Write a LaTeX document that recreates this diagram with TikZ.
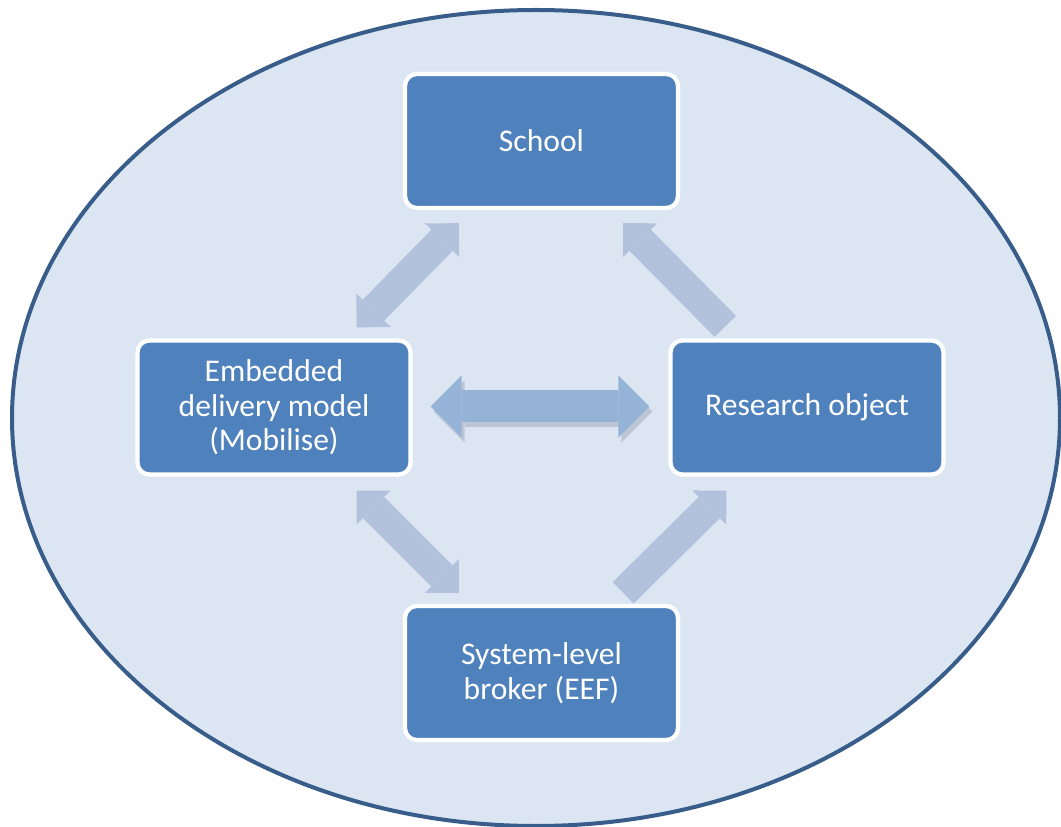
\documentclass[tikz,border=0pt]{standalone}
\usepackage{fontspec}
\setmainfont{Carlito}
\usetikzlibrary{arrows.meta,calc}
\definecolor{ringfill}{HTML}{DCE6F2}
\definecolor{ringline}{HTML}{385D8A}
\definecolor{boxfill}{HTML}{4F81BD}
\definecolor{diagfill}{HTML}{B2C2DC}
\definecolor{midfill}{HTML}{95B3D7}
\definecolor{midshade}{HTML}{BCC5D1}
\tikzset{
  diagtip/.tip={Triangle[length=18pt, width=36pt, line width=0pt]},
  midtip/.tip={Triangle[length=23.25pt, width=46.5pt, line width=0pt]}
}
\begin{document}
\begin{tikzpicture}[
  x=0.75pt, y=-0.75pt,
  block/.style={rectangle, rounded corners=9pt, draw=white, line width=3.2pt, fill=boxfill,
    minimum width=204.75pt, minimum height=100.5pt, align=center, text=white,
    font=\fontsize{23.7}{25.9}\selectfont},
  diag/.style={diagfill, line width=22.5pt}
]
\useasboundingbox (0,0) rectangle (1061,827);
% Outer ring
\draw[fill=ringfill, draw=ringline, line width=3pt] (536,418) ellipse [x radius=393pt, y radius=306pt];

% Boxes
\node[block] (school) at (541.5,141) {School};
\node[block] (embed) at (274,407.5) {Embedded\\delivery model\\(Mobilise)};
\node[block] (research) at (807,407.5) {Research object};
\node[block] (broker) at (541.5,673) {System-level\\broker (EEF)};

% Diagonal arrows
\draw[diag, diagtip-diagtip] ($(embed.north east)+(-56,-11)$) -- ($(school.south west)+(56,13)$);
\draw[diag, -diagtip] ($(research.north west)+(57,-12)$) -- ($(school.south east)+(-57,13)$);
\draw[diag, diagtip-diagtip] ($(embed.south east)+(-56,14)$) -- ($(broker.north west)+(56,-11)$);
\draw[diag, -diagtip] ($(broker.north east)+(-57,-11)$) -- ($(research.south west)+(58,14)$);

% Middle arrow with shadow
\draw[midshade, line width=24pt, midtip-midtip] ($(embed.east)+(21,4)$) -- ($(research.west)+(-16,4)$);
\draw[midfill, line width=24pt, midtip-midtip] ($(embed.east)+(18,-1)$) -- ($(research.west)+(-19,-1)$);
\end{tikzpicture}
\end{document}
